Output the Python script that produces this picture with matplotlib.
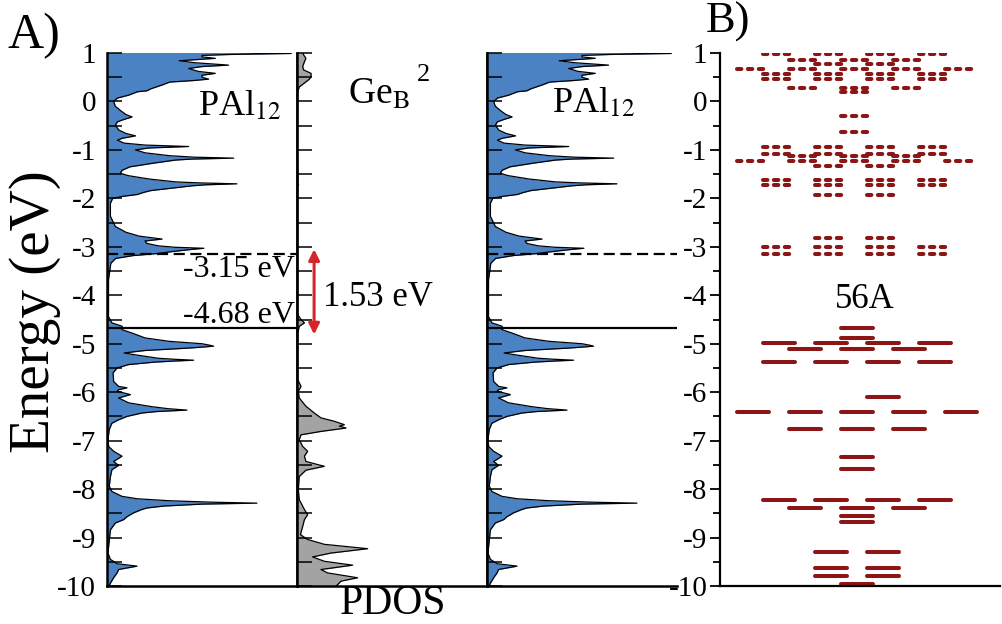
import numpy as np
import matplotlib.pyplot as plt
from matplotlib.ticker import MultipleLocator

plt.rcParams['font.family'] = ['Liberation Serif', 'DejaVu Serif']
plt.rcParams['mathtext.fontset'] = 'stix'
plt.rcParams['axes.unicode_minus'] = False

# PDOS of PAl12 (energy in eV, arbitrary units)
pal_e = [1.02, 0.99, 0.97, 0.95, 0.92, 0.89, 0.86, 0.84, 0.80, 0.75, 0.72, 0.68, 0.62, 0.58,
         0.54, 0.50, 0.46, 0.43, 0.40, 0.34, 0.26, 0.22, 0.20, 0.13, 0.07, 0.00, -0.10, -0.20,
         -0.27, -0.32, -0.37, -0.42, -0.49, -0.59, -0.66, -0.71, -0.76, -0.80, -0.86, -0.90,
         -0.93, -0.96, -1.00, -1.06, -1.12, -1.15, -1.17, -1.19, -1.21, -1.27, -1.35, -1.42,
         -1.48, -1.53, -1.60, -1.66, -1.68, -1.70, -1.72, -1.74, -1.79, -1.84, -1.88, -1.92,
         -1.96, -2.00, -2.10, -2.37, -2.58, -2.70, -2.78, -2.84, -2.88, -2.93, -2.98, -3.01,
         -3.03, -3.06, -3.10, -3.14, -3.18, -3.24, -3.34, -3.68, -4.44, -4.57, -4.64, -4.71,
         -4.78, -4.88, -4.95, -5.00, -5.03, -5.05, -5.07, -5.09, -5.14, -5.19, -5.23, -5.30,
         -5.32, -5.34, -5.36, -5.38, -5.43, -5.50, -5.60, -5.78, -5.88, -5.91, -5.95, -5.98,
         -6.05, -6.12, -6.22, -6.30, -6.34, -6.37, -6.40, -6.43, -6.50, -6.57, -6.64, -6.77,
         -6.98, -7.12, -7.22, -7.32, -7.43, -7.51, -7.60, -7.74, -7.94, -8.05, -8.15, -8.20,
         -8.24, -8.27, -8.29, -8.31, -8.35, -8.39, -8.42, -8.49, -8.57, -8.63, -8.70, -8.84,
         -9.32, -9.45, -9.54, -9.59, -9.66, -9.73, -9.83, -9.94, -10.02]
pal_d = [6.0, 9.7, 6.5, 5.0, 5.0, 5.7, 4.6, 3.8, 4.6, 6.4, 5.0, 4.3, 4.8, 5.7,
         5.0, 5.0, 5.35, 4.5, 3.3, 2.9, 2.3, 2.1, 1.6, 1.14, 0.55, 0.35, 0.44, 0.75,
         1.0, 1.32, 0.9, 0.55, 0.44, 0.62, 1.0, 1.5, 0.8, 0.55, 0.9, 2.0,
         4.3, 2.2, 1.5, 2.0, 3.3, 4.6, 6.67, 4.4, 3.6, 2.5, 1.2, 0.8,
         0.7, 1.1, 2.2, 3.6, 4.8, 6.84, 5.2, 4.5, 3.4, 2.3, 1.9, 1.6,
         0.8, 0.3, 0.18, 0.18, 0.44, 1.0, 1.7, 2.9, 2.0, 2.1, 2.7, 3.6,
         5.1, 4.3, 3.4, 2.6, 1.4, 0.45, 0.2, 0.08, 0.08, 0.26, 0.8, 0.79,
         1.32, 2.0, 3.25, 5.0, 5.4, 5.61, 5.0, 4.3, 2.0, 0.9, 1.5, 2.7,
         3.5, 4.56, 3.4, 2.5, 1.14, 0.53, 0.32, 0.35, 0.61, 1.05, 0.6, 0.53,
         1.23, 0.61, 1.14, 2.37, 3.2, 4.21, 2.6, 1.84, 1.05, 0.61, 0.26, 0.12,
         0.05, 0.09, 0.35, 0.79, 0.35, 0.61, 0.26, 0.18, 0.12, 0.26, 0.79, 1.6,
         3.25, 5.5, 7.89, 5.0, 3.0, 2.1, 1.84, 1.40, 1.05, 0.88, 0.44, 0.18,
         0.05, 0.18, 0.53, 1.58, 0.61, 0.53, 0.35, 0.18, 0.09]

# PDOS of Ge_B^2
ge_e = [1.02, 0.96, 0.89, 0.82, 0.72, 0.65, 0.58, 0.51, 0.46, 0.38, 0.30, 0.20, -1.00,
        -1.70, -1.72, -1.74, -4.40, -4.50, -4.57, -4.64, -4.78, -5.74, -5.88, -5.98, -6.12,
        -6.29, -6.43, -6.53, -6.60, -6.67, -6.70, -6.74, -6.81, -6.88, -6.98, -7.12, -7.22,
        -7.32, -7.43, -7.53, -7.61, -7.74, -8.01, -8.22, -8.42, -8.53, -8.63, -8.77, -8.94,
        -9.04, -9.14, -9.23, -9.32, -9.40, -9.49, -9.57, -9.66, -9.73, -9.83, -9.90, -9.97,
        -10.02]
ge_d = [0.30, 0.35, 0.47, 0.39, 0.30, 0.35, 0.74, 0.74, 0.65, 0.39, 0.12, 0.04, 0.03,
        0.05, 0.08, 0.04, 0.04, 0.21, 0.39, 0.12, 0.04, 0.04, 0.21, 0.07, 0.12,
        0.47, 0.91, 1.26, 1.96, 2.49, 2.23, 2.58, 1.26, 0.21, 0.12, 0.30, 0.56,
        0.39, 0.47, 1.44, 0.47, 0.12, 0.07, 0.12, 0.39, 0.56, 0.39, 0.30, 0.18,
        0.56, 1.44, 3.72, 1.79, 0.82, 1.44, 2.93, 1.26, 1.61, 3.19, 2.32, 2.14,
        2.0]

homo = -4.68
lumo = -3.15
gap = 1.53

# molecular levels of 56A: energy, degeneracy
occ_e = [-4.68, -4.88, -4.99, -5.10, -5.37, -6.09, -6.40, -6.77, -7.34, -7.58,
         -8.22, -8.39, -8.55, -8.68, -9.30, -9.63, -9.80, -9.96]
occ_deg = [1, 1, 4, 3, 4, 1, 5, 3, 1, 1, 4, 3, 1, 1, 2, 2, 2, 1]
occ_shift = [0, 0, 0, 0, 0, 0.5, 0, 0, 0, 0, 0, 0, 0, 0, 0, 0, 0, 0]
unocc_e = [0.97, 0.86, 0.77, 0.66, 0.56, 0.47, 0.27, 0.20, -0.29, -0.64, -0.93,
           -1.08, -1.13, -1.22, -1.33, -1.62, -1.73, -1.94, -2.81, -3.01, -3.15]
unocc_deg = [4, 3, 2, 5, 4, 4, 3, 1, 1, 1, 4, 4, 3, 5, 2, 4, 4, 2, 2, 4, 4]

blue = '#4a82c4'
gray = '#a3a3a3'
red = '#8c1616'

fig = plt.figure(figsize=(10.03, 6.24), dpi=100)
W, H = 1003.0, 624.0
bot = 1 - 586 / H
hgt = (586 - 53) / H

lefts = [107, 297, 487]
axs = [fig.add_axes([l / W, bot, 190 / W, hgt]) for l in lefts]
curves = [(pal_e, pal_d, blue), (ge_e, ge_d, gray), (pal_e, pal_d, blue)]

for i, (ax, (e, d, c)) in enumerate(zip(axs, curves)):
    ax.fill_betweenx(e, 0, d, color=c, lw=0)
    ax.plot(d, e, color='k', lw=0.9)
    ax.set_xlim(0, 10)
    ax.set_ylim(-10, 1)
    ax.yaxis.set_major_locator(MultipleLocator(1))
    ax.yaxis.set_minor_locator(MultipleLocator(0.5))
    ax.tick_params(axis='y', which='both', direction='in', length=11, width=1.1,
                   labelsize=21, pad=8, labelleft=(i == 0))
    ax.set_xticks([])
    ax.spines['top'].set_visible(False)
    for s in ['left', 'bottom', 'right']:
        ax.spines[s].set_linewidth(1.8)
    if i == 2:
        ax.spines['right'].set_visible(False)

for ax in (axs[0], axs[2]):
    ax.axhline(lumo, color='k', lw=1.6, ls=(0, (5, 2.5)))
    ax.axhline(homo, color='k', lw=1.6)

axs[0].text(9.9, -3.47, '-3.15 eV', ha='right', va='center', fontsize=23)
axs[0].text(9.9, -4.42, '-4.68 eV', ha='right', va='center', fontsize=23)
axs[0].text(4.8, -0.28, 'PAl$_{12}$', ha='left', va='baseline', fontsize=26)
axs[2].text(3.4, -0.22, 'PAl$_{12}$', ha='left', va='baseline', fontsize=26)
axs[1].text(2.7, -0.05, 'Ge$_{\\mathrm{B}}$', ha='left', va='baseline', fontsize=27)
axs[1].text(6.3, 0.55, '2', ha='left', va='center', fontsize=19)

axs[1].annotate('', xy=(0.9, homo - 0.13), xytext=(0.9, lumo + 0.1),
                arrowprops=dict(arrowstyle='<|-|>', color='#d7262b', lw=2.2,
                                mutation_scale=16, shrinkA=0, shrinkB=0))
axs[1].text(1.35, -4.05, '%.2f eV' % gap, ha='left', va='center', fontsize=25)

# panel B: energy levels
axb = fig.add_axes([720 / W, bot, 280 / W, hgt])
axb.set_xlim(-137 / 52, 143 / 52)
axb.set_ylim(-10, 1)
half = 0.31
for e, n, sh in zip(occ_e, occ_deg, occ_shift):
    for p in np.arange(n) - (n - 1) / 2 + sh:
        axb.plot([p - half, p + half], [e, e], color=red, lw=2.9, solid_capstyle='round')
for e, n in zip(unocc_e, unocc_deg):
    for p in np.arange(n) - (n - 1) / 2:
        axb.plot([p - half, p + half], [e, e], color=red, lw=2.9,
                 ls=(0, (1.1, 1.6)), dash_capstyle='round')
axb.text(0.15, -4.09, '56A', ha='center', va='center', fontsize=25)
axb.yaxis.set_major_locator(MultipleLocator(1))
axb.yaxis.set_minor_locator(MultipleLocator(0.5))
axb.tick_params(axis='y', which='major', direction='out', length=7, width=1.3,
                labelsize=21, pad=2)
axb.tick_params(axis='y', which='minor', direction='out', length=5, width=1.3)
axb.set_xticks([])
axb.spines['top'].set_visible(False)
axb.spines['right'].set_visible(False)
axb.spines['left'].set_linewidth(1.6)
axb.spines['bottom'].set_linewidth(1.6)

fig.text(35 / W, 1 - 312 / H, 'Energy (eV)', rotation=90, ha='center', va='center', fontsize=41)
fig.text(393 / W, 1 - 604 / H, 'PDOS', ha='center', va='center', fontsize=30)
fig.text(8 / W, 1 - 36 / H, 'A)', ha='left', va='center', fontsize=36)
fig.text(706 / W, 1 - 22 / H, 'B)', ha='left', va='center', fontsize=32)

fig.savefig('out.png', dpi=100)
